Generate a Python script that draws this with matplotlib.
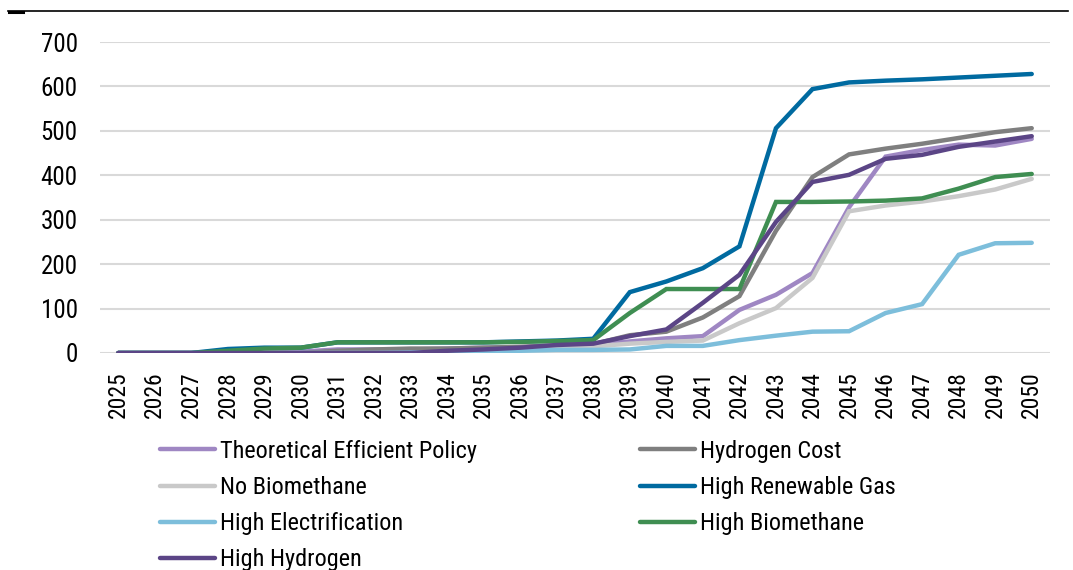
import matplotlib
matplotlib.use("Agg")
import matplotlib.pyplot as plt
from matplotlib.lines import Line2D
from matplotlib import font_manager

years = list(range(2025, 2051))

theoretical_efficient_policy = [0, 0, 0, 0, 0, 3, 8, 8, 8, 10, 12, 13, 15, 18, 26, 33, 38, 97, 131, 180, 328, 442, 457, 469, 467, 482]
hydrogen_cost = [0, 0, 0, 0, 0, 0, 5, 8, 10, 10, 12, 14, 17, 20, 40, 48, 80, 128, 275, 396, 447, 460, 471, 484, 497, 506]
no_biomethane = [0, 0, 0, 0, 0, 0, 0, 0, 0, 2, 5, 8, 11, 15, 21, 25, 28, 67, 101, 169, 319, 332, 341, 353, 368, 392]
high_renewable_gas = [0, 0, 0, 9, 12, 12, 24, 24, 24, 24, 24, 26, 28, 32, 137, 161, 191, 240, 506, 594, 609, 613, 616, 620, 624, 628]
high_electrification = [0, 0, 0, 0, 0, 0, 0, 0, 1, 2, 3, 5, 7, 7, 8, 16, 16, 29, 39, 48, 49, 90, 110, 221, 247, 248]
high_biomethane = [0, 0, 0, 5, 10, 12, 24, 24, 24, 24, 24, 25, 27, 29, 90, 144, 144, 144, 340, 340, 341, 343, 348, 370, 396, 403]
high_hydrogen = [0, 0, 0, 0, 0, 0, 0, 0, 0, 5, 8, 12, 18, 21, 38, 53, 113, 176, 295, 385, 401, 437, 446, 464, 476, 488]

series_names = ["Theoretical Efficient Policy", "Hydrogen Cost", "No Biomethane",
                "High Renewable Gas", "High Electrification", "High Biomethane", "High Hydrogen"]
series_values = [theoretical_efficient_policy, hydrogen_cost, no_biomethane,
                 high_renewable_gas, high_electrification, high_biomethane, high_hydrogen]
series_colors = ["#9f87c3", "#7f7f7f", "#c9c9c9", "#006aa0", "#7dbedb", "#3f8e52", "#5b4586"]

y_ticks = [0, 100, 200, 300, 400, 500, 600, 700]

installed = {f.name for f in font_manager.fontManager.ttflist}
fam = [f for f in ["Roboto Condensed", "Archivo Narrow", "Liberation Sans", "DejaVu Sans"] if f in installed]
plt.rcParams["font.family"] = fam

fig = plt.figure(figsize=(10.73, 5.70), dpi=100)
ax = fig.add_axes([100 / 1073, (570 - 353) / 570, 950 / 1073, 311 / 570])

handles = {}
for name, vals, col in zip(series_names, series_values, series_colors):
    ln, = ax.plot(years, vals, color=col, lw=3.2, solid_capstyle="round",
                  solid_joinstyle="miter", label=name)
    handles[name] = ln

ax.set_xlim(years[0] - 0.5, years[-1] + 0.5)
ax.set_ylim(0, 700)
ax.set_yticks(y_ticks)
ax.set_yticklabels([str(v) for v in y_ticks])
ax.set_xticks(years)
ax.set_xticklabels([str(y) for y in years], rotation=90)
ax.tick_params(axis="both", length=0, colors="black")
ax.tick_params(axis="y", pad=16, labelsize=18)
ax.tick_params(axis="x", pad=13, labelsize=17)
ax.grid(axis="y", color="#d9d9d9", lw=1.5)
ax.set_axisbelow(True)
for s in ax.spines.values():
    s.set_visible(False)

col1 = ["Theoretical Efficient Policy", "No Biomethane", "High Electrification", "High Hydrogen"]
col2 = ["Hydrogen Cost", "High Renewable Gas", "High Biomethane"]
leg_kw = dict(loc="upper left", frameon=False, fontsize=17.5, handlelength=2.25,
              handletextpad=0.2, labelspacing=0.54, borderaxespad=0, borderpad=0)
leg1 = fig.legend([handles[n] for n in col1], col1,
                  bbox_to_anchor=(160 / 1073, 1 - 440 / 570), **leg_kw)
leg2 = fig.legend([handles[n] for n in col2], col2,
                  bbox_to_anchor=(640 / 1073, 1 - 440 / 570), **leg_kw)

# top rule
fig.add_artist(Line2D([8 / 1073, 1068 / 1073], [1 - 11 / 570, 1 - 11 / 570],
                      transform=fig.transFigure, color="black", lw=1.2))
fig.add_artist(Line2D([9 / 1073, 23 / 1073], [1 - 11.5 / 570, 1 - 11.5 / 570],
                      transform=fig.transFigure, color="black", lw=2.2))

fig.savefig("out.png", dpi=100)
